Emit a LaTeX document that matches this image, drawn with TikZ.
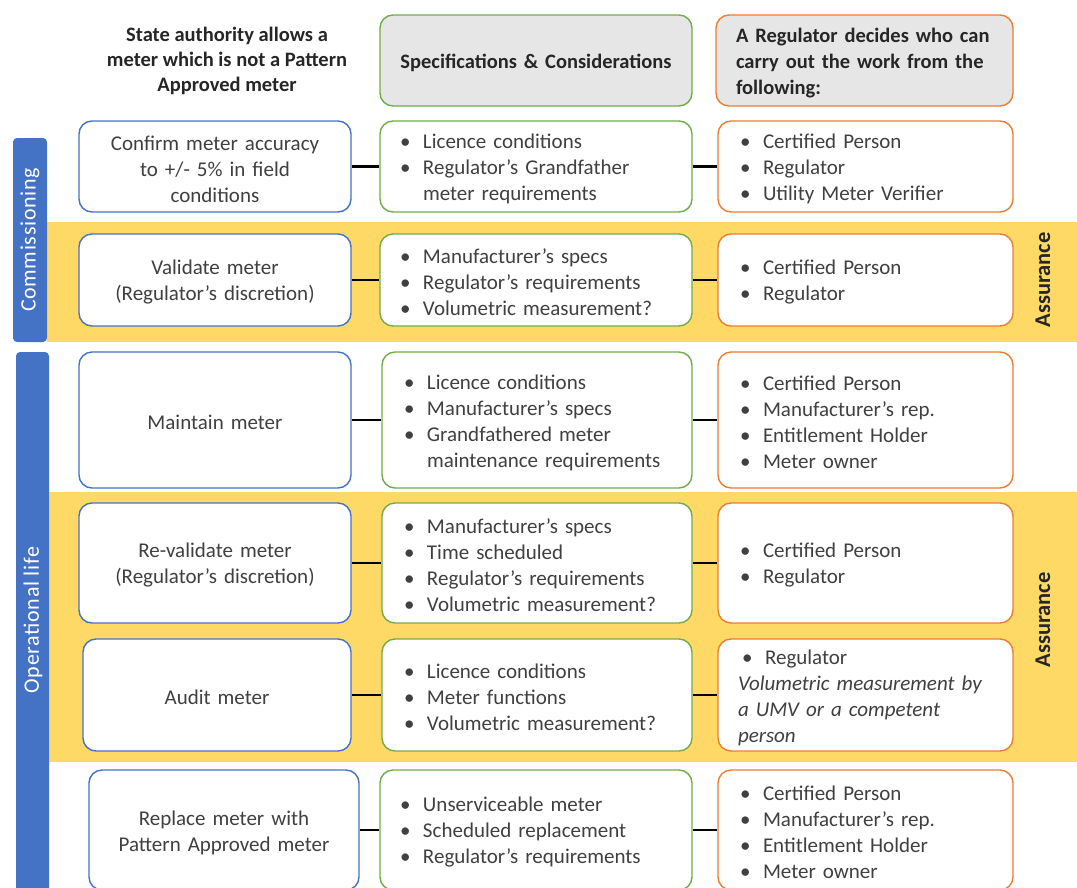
\documentclass[tikz,border=0pt]{standalone}
\usepackage{fontspec}
\setmainfont{Carlito}
\definecolor{bblue}{HTML}{4472C4}
\definecolor{bgreen}{HTML}{70AD47}
\definecolor{borange}{HTML}{ED7D31}
\definecolor{hgray}{HTML}{E7E6E6}
\definecolor{band}{HTML}{FFD966}
\definecolor{txt}{HTML}{404040}
\newcommand\itm[1]{\makebox[23pt][l]{\textbullet}#1}
\newcommand\cont[1]{\hspace*{23pt}#1}
% style, name, cx, cy, w, h, pad, text
\newcommand\bx[8]{%
  \node[#1, minimum width=#5pt, minimum height=#6pt] (#2) at (#3,#4) {};
  \pgfmathsetmacro\tw{#5-2*#7}%
  \node[#1txt, text width=\tw pt] (#2t) at ([yshift=-2.5pt]#2.center) {#8};
}
\tikzset{
  base/.style={rounded corners=13pt, line width=1.4pt, fill=white, inner sep=0pt},
  basetxt/.style={inner sep=0pt, font=\fontsize{21}{26}\selectfont, text=txt},
  bluebox/.style={base, draw=bblue},
  blueboxtxt/.style={basetxt, align=center},
  greenbox/.style={base, draw=bgreen},
  greenboxtxt/.style={basetxt, align=left},
  orangebox/.style={base, draw=borange},
  orangeboxtxt/.style={basetxt, align=left},
  headg/.style={greenbox, fill=hgray},
  headgtxt/.style={basetxt, align=center, text=black!85, font=\bfseries\fontsize{20.5}{26}\selectfont},
  heado/.style={orangebox, fill=hgray},
  headotxt/.style={basetxt, align=left, text=black!85, font=\bfseries\fontsize{20.5}{26}\selectfont},
  conn/.style={line width=2.2pt, black},
  bandfill/.style={fill=band, draw=none},
  bar/.style={fill=bblue, draw=none, rounded corners=4pt},
  bartext/.style={rotate=90, text=white, font=\fontsize{22}{24}\selectfont\addfontfeature{LetterSpace=3}},
  assur/.style={rotate=90, text=black!85, font=\bfseries\fontsize{22.5}{24}\selectfont},
  headtext/.style={align=center, text=black!85, font=\bfseries\fontsize{20.5}{25}\selectfont}
}
\begin{document}
\begin{tikzpicture}[x=1pt,y=-1pt]
\clip (0,0) rectangle (1077,887);
\fill[white] (0,0) rectangle (1077,887);
% bands
\path[bandfill] (47,222) rectangle (1077,342);
\path[bandfill] (49,492) rectangle (1077,762);
% side bars
\path[bar] (13,138) rectangle (47,342);
\path[bar] (16,352) rectangle (49,900);
\node[bartext] (lc) at (30,240) {Commissioning};
\node[bartext] (lo) at (33,620) {Operational life};
\node[assur] (a1) at (1043,280) {Assurance};
\node[assur] (a2) at (1043,620) {Assurance};
% headers
\node[headtext] (hl) at (227,61) {State authority allows a\\meter which is not a Pattern\\Approved meter};
\bx{headg}{hg}{536}{60.5}{312}{91}{20}{Specifications \& Considerations}
\bx{heado}{ho}{864.5}{60.5}{297}{91}{20}{A Regulator decides who can\\carry out the work from the\\following:}
% row 1
\bx{bluebox}{b1}{215}{166.5}{272}{91}{10}{Confirm meter accuracy\\to +/- 5\% in field\\conditions}
\bx{greenbox}{g1}{536}{166.5}{312}{91}{20}{\itm{Licence conditions}\\\itm{Regulator’s Grandfather}\\\cont{meter requirements}}
\bx{orangebox}{o1}{865.5}{166.5}{295}{91}{22}{\itm{Certified Person}\\\itm{Regulator}\\\itm{Utility Meter Verifier}}
% row 2
\bx{bluebox}{b2}{215}{280}{272}{92}{10}{Validate meter\\(Regulator’s discretion)}
\bx{greenbox}{g2}{536}{280}{312}{92}{20}{\itm{Manufacturer’s specs}\\\itm{Regulator’s requirements}\\\itm{Volumetric measurement?}}
\bx{orangebox}{o2}{865.5}{280}{295}{92}{22}{\itm{Certified Person}\\\itm{Regulator}}
% row 3
\bx{bluebox}{b3}{215}{420}{272}{136}{10}{Maintain meter}
\bx{greenbox}{g3}{537}{420}{310}{136}{22}{\itm{Licence conditions}\\\itm{Manufacturer’s specs}\\\itm{Grandfathered meter}\\\cont{maintenance requirements}}
\bx{orangebox}{o3}{865.5}{420}{295}{136}{22}{\itm{Certified Person}\\\itm{Manufacturer’s rep.}\\\itm{Entitlement Holder}\\\itm{Meter owner}}
% row 4
\bx{bluebox}{b4}{215}{563}{272}{120}{10}{Re-validate meter\\(Regulator’s discretion)}
\bx{greenbox}{g4}{537}{563}{310}{120}{22}{\itm{Manufacturer’s specs}\\\itm{Time scheduled}\\\itm{Regulator’s requirements}\\\itm{Volumetric measurement?}}
\bx{orangebox}{o4}{865.5}{563}{295}{120}{22}{\itm{Certified Person}\\\itm{Regulator}}
% row 5
\bx{bluebox}{b5}{217}{695}{268}{112}{10}{Audit meter}
\bx{greenbox}{g5}{537}{695}{310}{112}{22}{\itm{Licence conditions}\\\itm{Meter functions}\\\itm{Volumetric measurement?}}
\bx{orangebox}{o5}{865.5}{695}{295}{112}{20}{\hspace*{4pt}\itm{Regulator}\\\textit{Volumetric measurement by}\\\textit{a UMV or a competent}\\\textit{person}}
% row 6
\bx{bluebox}{b6}{224}{830}{270}{120}{10}{Replace meter with\\Pattern Approved meter}
\bx{greenbox}{g6}{536}{830}{312}{120}{20}{\itm{Unserviceable meter}\\\itm{Scheduled replacement}\\\itm{Regulator’s requirements}}
\bx{orangebox}{o6}{865.5}{830}{295}{120}{22}{\itm{Certified Person}\\\itm{Manufacturer’s rep.}\\\itm{Entitlement Holder}\\\itm{Meter owner}}
% connectors
\foreach \r in {1,...,6}{
  \draw[conn] (b\r.east) -- (g\r.west);
  \draw[conn] (g\r.east) -- (o\r.west);
}
\end{tikzpicture}
\end{document}
